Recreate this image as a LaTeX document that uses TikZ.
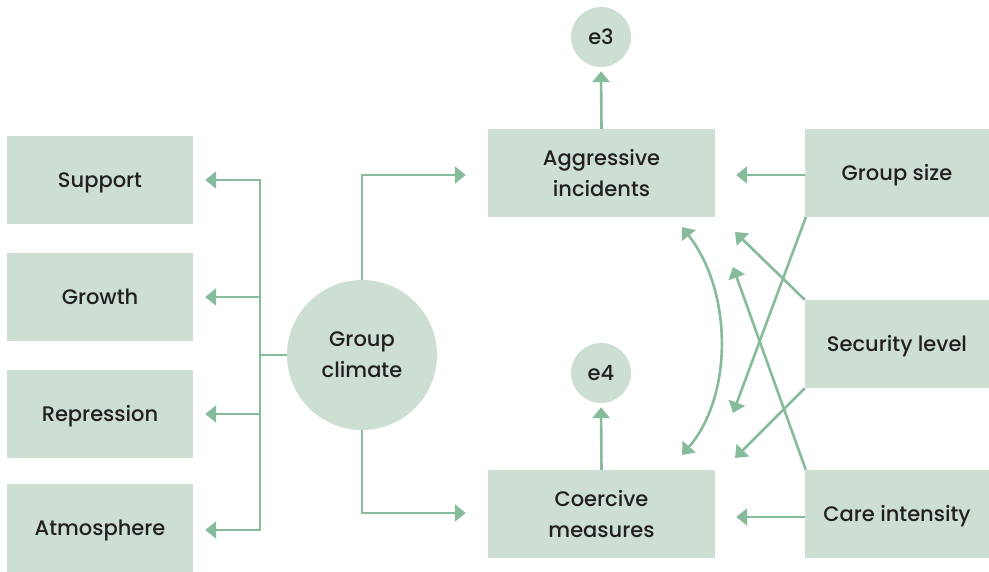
\documentclass[tikz,border=0pt]{standalone}
\usepackage{fontspec}
\setmainfont{Poppins}[UprightFont={* Medium}]
\usetikzlibrary{arrows.meta}
\definecolor{boxfill}{HTML}{CCDFD2}
\definecolor{linkcol}{HTML}{86BB9B}
\definecolor{inkcol}{HTML}{231F20}
\tikzset{
  labelfont/.style={font=\fontsize{21}{31}\selectfont},
  oneline/.style={text height=15pt, text depth=0pt},
  panel/.style={fill=boxfill, draw=none, minimum width=186pt, minimum height=88pt,
    text=inkcol, labelfont, align=center, inner sep=0pt},
  widepanel/.style={panel, minimum width=227pt},
  sidepanel/.style={panel, minimum width=184pt, oneline},
  leftpanel/.style={panel, oneline},
  bubble/.style={circle, fill=boxfill, draw=none, text=inkcol,
    labelfont, align=center, inner sep=0pt},
  link/.style={draw=linkcol, line width=2.6pt,
    -{Triangle[width=17pt,length=11pt]}},
  plainlink/.style={draw=linkcol, line width=2.6pt}
}
\begin{document}
\begin{tikzpicture}[x=1pt,y=-1pt]
\useasboundingbox (0,0) rectangle (989,572);

% indicator boxes on the left
\node[leftpanel] (sup) at (100,180) {Support};
\node[leftpanel] (gro) at (100,297) {Growth};
\node[leftpanel] (rep) at (100,414) {Repression};
\node[leftpanel] (atm) at (100,528) {Atmosphere};

% latent factor
\node[bubble, minimum size=150pt] (gc) at (362,355) {Group\\climate};

% outcomes
\node[widepanel] (ai) at (601.5,173) {Aggressive\\incidents};
\node[widepanel] (cm) at (601.5,514) {Coercive\\measures};

% error terms
\node[bubble, minimum size=60pt] (e3) at (601,37) {e3};
\node[bubble, minimum size=60pt] (e4) at (601,373) {e4};

% predictors on the right
\node[sidepanel] (gs) at (897,173) {Group size};
\node[sidepanel] (sl) at (897,344) {Security level};
\node[sidepanel] (ci) at (897,514) {Care intensity};

% branching from the factor to its indicators
\coordinate (j) at (260,355);
\draw[plainlink] (gc.west) -- (j);
\draw[link, shorten >=12pt] (j) |- (sup.east);
\draw[link, shorten >=12pt] (j) |- (gro.east);
\draw[link, shorten >=12pt] (j) |- (rep.east);
\draw[link, shorten >=12pt] (j) |- ([yshift=-2pt]atm.east);

% factor to outcomes
\draw[link, shorten >=22pt] (gc.north) |- ([yshift=-2pt]ai.west);
\draw[link, shorten >=22pt] (gc.south) |- ([yshift=1pt]cm.west);

% error terms
\draw[link, shorten >=4pt] (ai.north) -- (e3.south);
\draw[link, shorten >=4pt] (cm.north) -- (e4.south);

% predictor paths
\coordinate (ai1) at (735,232);
\coordinate (ai2) at (733,267);
\coordinate (cm1) at (733,413);
\coordinate (cm2) at (735,458);
\draw[link, shorten >=21pt] ([yshift=-2pt]gs.west) -- ([yshift=-2pt]ai.east);
\draw[link, shorten >=21pt] ([yshift=-3pt]ci.west) -- ([yshift=-3pt]cm.east);
\draw[link] ([xshift=1pt]gs.south west) -- (cm1);
\draw[link] (sl.north west) -- (ai1);
\draw[link] (sl.south west) -- (cm2);
\draw[link] ([xshift=1pt]ci.north west) -- (ai2);

% correlation between the outcomes
\coordinate (cu) at (682,227);
\coordinate (cd) at (682,455);
\draw[draw=linkcol, line width=2.6pt,
  {Triangle[width=17pt,length=11pt]}-{Triangle[width=17pt,length=11pt]}]
  (cu) .. controls (733,292) and (733,396) .. (cd);
\end{tikzpicture}
\end{document}
